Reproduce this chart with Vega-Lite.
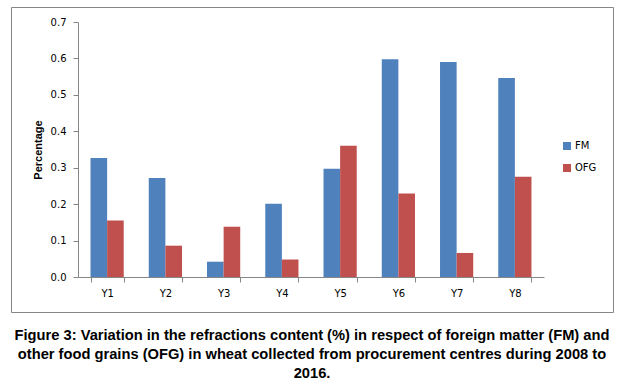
{
  "$schema": "https://vega.github.io/schema/vega-lite/v6.json",
  "width": 602,
  "height": 305,
  "autosize": {"type": "none"},
  "padding": {"left": 11, "top": 7, "right": 12, "bottom": 78},
  "background": "white",
  "config": {"view": {"stroke": "#868686", "strokeWidth": 1}},
  "title": {
    "text": ["Figure 3:  Variation in the refractions content (%) in respect of foreign matter (FM) and", "other food grains (OFG) in wheat collected from procurement centres during 2008 to", "2016."],
    "orient": "bottom",
    "anchor": "middle",
    "font": "Liberation Sans",
    "fontSize": 14.7,
    "fontWeight": "bold",
    "color": "black",
    "lineHeight": 19,
    "offset": 16
  },
  "data": {"values": [
    {"year": "Y1", "series": "FM", "value": 0.327},
    {"year": "Y1", "series": "OFG", "value": 0.155},
    {"year": "Y2", "series": "FM", "value": 0.272},
    {"year": "Y2", "series": "OFG", "value": 0.086},
    {"year": "Y3", "series": "FM", "value": 0.042},
    {"year": "Y3", "series": "OFG", "value": 0.138},
    {"year": "Y4", "series": "FM", "value": 0.201},
    {"year": "Y4", "series": "OFG", "value": 0.048},
    {"year": "Y5", "series": "FM", "value": 0.297},
    {"year": "Y5", "series": "OFG", "value": 0.360},
    {"year": "Y6", "series": "FM", "value": 0.598},
    {"year": "Y6", "series": "OFG", "value": 0.229},
    {"year": "Y7", "series": "FM", "value": 0.590},
    {"year": "Y7", "series": "OFG", "value": 0.066},
    {"year": "Y8", "series": "FM", "value": 0.546},
    {"year": "Y8", "series": "OFG", "value": 0.275}
  ]},
  "mark": {"type": "bar"},
  "encoding": {
    "x": {
      "field": "year",
      "type": "nominal",
      "scale": {"range": [67, 533], "paddingInner": 0.43, "paddingOuter": 0.215},
      "axis": {
        "title": null,
        "offset": -35,
        "labelAngle": 0,
        "domainColor": "#868686",
        "tickColor": "#868686",
        "tickBand": "extent",
        "tickSize": 5,
        "labelFont": "DejaVu Sans",
        "labelFontSize": 10,
        "labelColor": "black",
        "labelPadding": 6
      }
    },
    "xOffset": {"field": "series", "sort": ["FM", "OFG"]},
    "y": {
      "field": "value",
      "type": "quantitative",
      "scale": {"domain": [0, 0.7], "range": [270, 15], "nice": false},
      "axis": {
        "title": "Percentage",
        "offset": -67,
        "values": [0, 0.1, 0.2, 0.3, 0.4, 0.5, 0.6, 0.7],
        "format": ".1f",
        "grid": false,
        "domainColor": "#868686",
        "tickColor": "#868686",
        "tickSize": 5,
        "labelFont": "DejaVu Sans",
        "labelFontSize": 10,
        "labelColor": "black",
        "labelPadding": 7,
        "titleFont": "Liberation Sans",
        "titleFontSize": 11,
        "titleFontWeight": "bold",
        "titleColor": "black",
        "titlePadding": 7
      }
    },
    "color": {
      "field": "series",
      "type": "nominal",
      "scale": {"domain": ["FM", "OFG"], "range": ["#4F81BD", "#C0504D"]},
      "legend": {
        "title": null,
        "orient": "none",
        "legendX": 551,
        "legendY": 134,
        "symbolType": "square",
        "symbolSize": 64,
        "symbolStrokeWidth": 0,
        "labelFont": "DejaVu Sans",
        "labelFontSize": 10,
        "labelColor": "black",
        "rowPadding": 12,
        "labelOffset": 3
      }
    }
  }
}
